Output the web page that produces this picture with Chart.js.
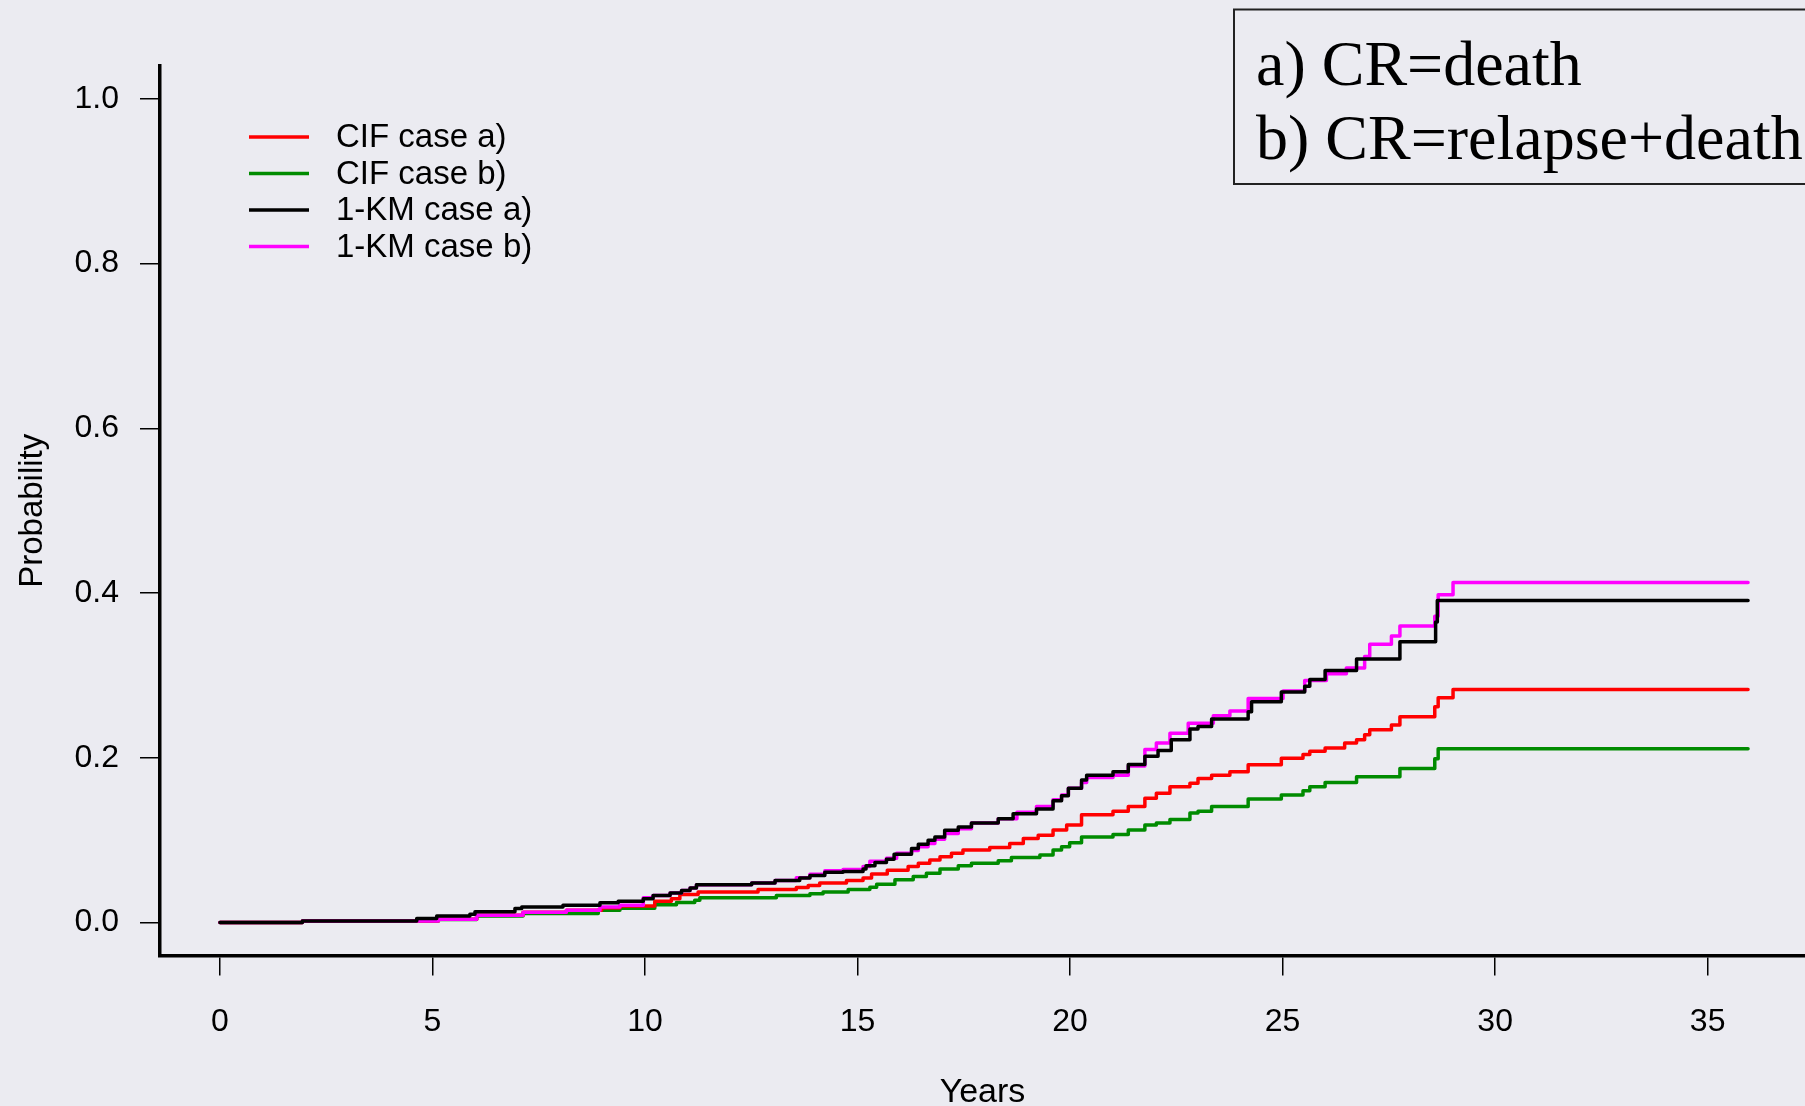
<!DOCTYPE html>
<html>
<head>
<meta charset="utf-8">
<title>CIF vs 1-KM</title>
<script src="https://cdn.jsdelivr.net/npm/chart.js@4.4.0/dist/chart.umd.min.js"></script>
<style>
    html, body { margin: 0; padding: 0; background: #ebebf1; overflow: hidden; }
    canvas { display: block; }
</style>
</head>
<body>
<canvas id="cifChart" width="1805" height="1106"></canvas>
<script>
// step points: [years, probability], value holds until the next jump
const cifA = [[0, 0], [1.94, 0.002], [5.14, 0.004], [6.04, 0.009], [7.13, 0.0125], [8.15, 0.015], [8.98, 0.018],
    [9.41, 0.020], [10.23, 0.026], [10.62, 0.029], [10.82, 0.034], [11.25, 0.037], [12.66, 0.040], [13.56, 0.0425],
    [13.84, 0.045], [14.11, 0.048], [14.74, 0.051], [15.13, 0.054], [15.33, 0.059], [15.70, 0.0635], [16.19, 0.068],
    [16.43, 0.072], [16.70, 0.076], [16.94, 0.080], [17.21, 0.084], [17.48, 0.088], [18.11, 0.091], [18.58, 0.096],
    [18.90, 0.102], [19.25, 0.106], [19.60, 0.1125], [19.92, 0.1186], [20.27, 0.131], [21.01, 0.135], [21.37, 0.141],
    [21.76, 0.151], [22.03, 0.157], [22.35, 0.165], [22.82, 0.169], [23.01, 0.175], [23.33, 0.179], [23.76, 0.183],
    [24.19, 0.1915], [24.97, 0.1995], [25.48, 0.204], [25.64, 0.208], [26.00, 0.212], [26.46, 0.218], [26.74, 0.222],
    [26.93, 0.228], [27.05, 0.234], [27.56, 0.240], [27.76, 0.250], [28.58, 0.262], [28.66, 0.273], [29.01, 0.283],
    [35.95, 0.283]];

const cifB = [[0, 0], [1.94, 0.002], [5.14, 0.0036], [6.04, 0.008], [7.13, 0.011], [8.90, 0.015], [9.41, 0.0174],
    [10.23, 0.0215], [10.74, 0.0243], [11.17, 0.027], [11.29, 0.030], [13.09, 0.033], [13.88, 0.035], [14.19, 0.037],
    [14.78, 0.040], [15.29, 0.043], [15.45, 0.0466], [15.88, 0.052], [16.31, 0.056], [16.62, 0.060], [16.94, 0.065],
    [17.37, 0.069], [17.68, 0.072], [18.31, 0.075], [18.62, 0.079], [19.29, 0.082], [19.60, 0.088], [19.80, 0.092],
    [19.99, 0.097], [20.27, 0.104], [21.01, 0.107], [21.37, 0.1125], [21.76, 0.1186], [22.03, 0.121], [22.35, 0.125],
    [22.82, 0.133], [23.01, 0.135], [23.33, 0.141], [24.19, 0.150], [24.97, 0.155], [25.48, 0.160], [25.64, 0.165],
    [26.00, 0.170], [26.74, 0.177], [27.76, 0.187], [28.58, 0.199], [28.66, 0.211], [35.95, 0.211]];

const kmA = [[0, 0], [1.94, 0.002], [4.63, 0.005], [5.10, 0.008], [5.88, 0.010], [6.00, 0.013], [6.94, 0.017],
    [7.10, 0.019], [8.07, 0.021], [8.94, 0.024], [9.37, 0.026], [9.96, 0.029], [10.19, 0.033], [10.59, 0.036],
    [10.86, 0.039], [11.06, 0.042], [11.21, 0.046], [12.51, 0.048], [13.06, 0.051], [13.64, 0.054], [13.88, 0.057],
    [14.23, 0.061], [14.66, 0.062], [15.13, 0.065], [15.20, 0.069], [15.41, 0.073], [15.68, 0.077], [15.86, 0.083],
    [16.27, 0.090], [16.43, 0.095], [16.66, 0.100], [16.82, 0.104], [17.05, 0.112], [17.37, 0.116], [17.68, 0.121],
    [18.31, 0.126], [18.66, 0.132], [19.21, 0.138], [19.60, 0.148], [19.80, 0.154], [19.96, 0.163], [20.27, 0.173],
    [20.39, 0.179], [21.01, 0.183], [21.37, 0.192], [21.76, 0.202], [22.07, 0.209], [22.38, 0.222], [22.82, 0.235],
    [23.01, 0.238], [23.33, 0.247], [24.19, 0.256], [24.27, 0.268], [24.97, 0.280], [25.52, 0.287], [25.64, 0.295],
    [26.00, 0.306], [26.74, 0.320], [27.76, 0.341], [28.60, 0.365], [28.64, 0.391], [35.95, 0.391]];

const kmB = [[0, 0], [1.94, 0.002], [5.14, 0.004], [6.04, 0.009], [7.13, 0.0125], [8.15, 0.015], [8.94, 0.019],
    [9.41, 0.021], [9.96, 0.030], [10.19, 0.033], [10.59, 0.036], [10.86, 0.039], [11.06, 0.042], [11.21, 0.046],
    [12.51, 0.048], [13.06, 0.051], [13.56, 0.0545], [13.88, 0.0585], [14.23, 0.063], [14.66, 0.0645], [15.13, 0.068],
    [15.29, 0.0745], [15.68, 0.078], [15.92, 0.084], [16.27, 0.0875], [16.43, 0.092], [16.66, 0.096], [16.82, 0.101],
    [17.05, 0.108], [17.37, 0.114], [17.68, 0.121], [18.31, 0.126], [18.75, 0.134], [19.21, 0.141], [19.60, 0.149],
    [19.80, 0.155], [19.96, 0.163], [20.27, 0.170], [20.39, 0.176], [21.01, 0.179], [21.37, 0.190], [21.76, 0.210],
    [22.03, 0.218], [22.35, 0.230], [22.78, 0.242], [23.37, 0.251], [23.76, 0.257], [24.19, 0.272], [25.01, 0.281],
    [25.52, 0.294], [26.03, 0.302], [26.50, 0.309], [26.93, 0.323], [27.05, 0.338], [27.56, 0.348], [27.76, 0.360],
    [28.58, 0.372], [28.66, 0.398], [29.01, 0.413], [35.95, 0.413]];

const seriesLabels = ['CIF case a)', 'CIF case b)', '1-KM case a)', '1-KM case b)'];
const seriesColors = ['#ff0000', '#008b00', '#000000', '#ff00ff'];
const seriesOrder = [2, 3, 0, 1]; // black on top, then magenta, red, green
const xTicks = [0, 5, 10, 15, 20, 25, 30, 35];
const yTicks = [0, 0.2, 0.4, 0.6, 0.8, 1.0];
const noteLines = ['a) CR=death', 'b) CR=relapse+death'];

const sans = '"Liberation Sans", Arial, Helvetica, sans-serif';
const serif = '"Liberation Serif", "Times New Roman", serif';

const legendBox = {
    id: 'legendBox',
    afterDraw(chart) {
        const ctx = chart.ctx;
        const left = chart.chartArea.left;
        ctx.save();
        ctx.font = '33px ' + sans;
        ctx.textBaseline = 'middle';
        chart.data.datasets.forEach((ds, i) => {
            const y = 137 + i * 36.5;
            ctx.strokeStyle = ds.borderColor;
            ctx.lineWidth = 3.5;
            ctx.lineCap = 'butt';
            ctx.beginPath();
            ctx.moveTo(left + 89, y);
            ctx.lineTo(left + 149, y);
            ctx.stroke();
            ctx.fillStyle = '#000';
            ctx.fillText(ds.label, left + 176, y + 1);
        });
        ctx.restore();
    }
};

const noteBox = {
    id: 'noteBox',
    afterDraw(chart) {
        const ctx = chart.ctx;
        const x0 = chart.chartArea.right - 571;
        ctx.save();
        ctx.strokeStyle = '#222';
        ctx.lineWidth = 2;
        ctx.strokeRect(x0, 9.5, 640, 174.5);
        ctx.fillStyle = '#000';
        ctx.font = '64px ' + serif;
        ctx.textBaseline = 'alphabetic';
        noteLines.forEach((line, i) => {
            ctx.fillText(line, x0 + 22, 85 + i * 74);
        });
        ctx.restore();
    }
};

function renderChart() {
    const ctx = document.getElementById('cifChart').getContext('2d');
    const curves = [cifA, cifB, kmA, kmB];
    new Chart(ctx, {
        type: 'line',
        data: {
            datasets: curves.map((pts, i) => ({
                label: seriesLabels[i],
                data: pts.map(p => ({ x: p[0], y: p[1] })),
                borderColor: seriesColors[i],
                borderWidth: 3.5,
                borderCapStyle: 'round',
                borderJoinStyle: 'round',
                stepped: true,
                pointRadius: 0,
                fill: false,
                order: seriesOrder[i]
            }))
        },
        options: {
            responsive: false,
            animation: false,
            layout: { padding: { top: 66, left: 0, right: 0, bottom: 0 } },
            plugins: {
                legend: { display: false },
                tooltip: { enabled: false }
            },
            scales: {
                x: {
                    type: 'linear',
                    min: -1.41,
                    max: 37.29,
                    afterBuildTicks: s => { s.ticks = xTicks.map(v => ({ value: v })); },
                    afterFit: s => { s.height = 150.5; },
                    border: { display: true, color: '#000', width: 3.5 },
                    grid: { drawOnChartArea: false, drawTicks: true, tickLength: 20, color: '#000', lineWidth: 1.5 },
                    ticks: {
                        color: '#000', padding: 27, maxRotation: 0, autoSkip: false,
                        font: { family: sans, size: 32 },
                        callback: v => String(v)
                    },
                    title: {
                        display: true, text: 'Years', color: '#000',
                        font: { family: sans, size: 34, lineHeight: 0.8 },
                        padding: { top: 0, bottom: 0 }
                    }
                },
                y: {
                    type: 'linear',
                    min: -0.04,
                    max: 1.04,
                    afterBuildTicks: s => { s.ticks = yTicks.map(v => ({ value: v })); },
                    afterFit: s => { s.width = 160; },
                    border: { display: true, color: '#000', width: 3.5 },
                    grid: { drawOnChartArea: false, drawTicks: true, tickLength: 20, color: '#000', lineWidth: 1.5 },
                    ticks: {
                        color: '#000', padding: 21,
                        font: { family: sans, size: 32 },
                        callback: v => v.toFixed(1)
                    },
                    title: {
                        display: true, text: 'Probability', color: '#000',
                        font: { family: sans, size: 33, lineHeight: 1 },
                        padding: { top: 16.5, bottom: 0 }
                    }
                }
            }
        },
        plugins: [legendBox, noteBox]
    });
}

document.addEventListener('DOMContentLoaded', renderChart);
</script>
</body>
</html>
